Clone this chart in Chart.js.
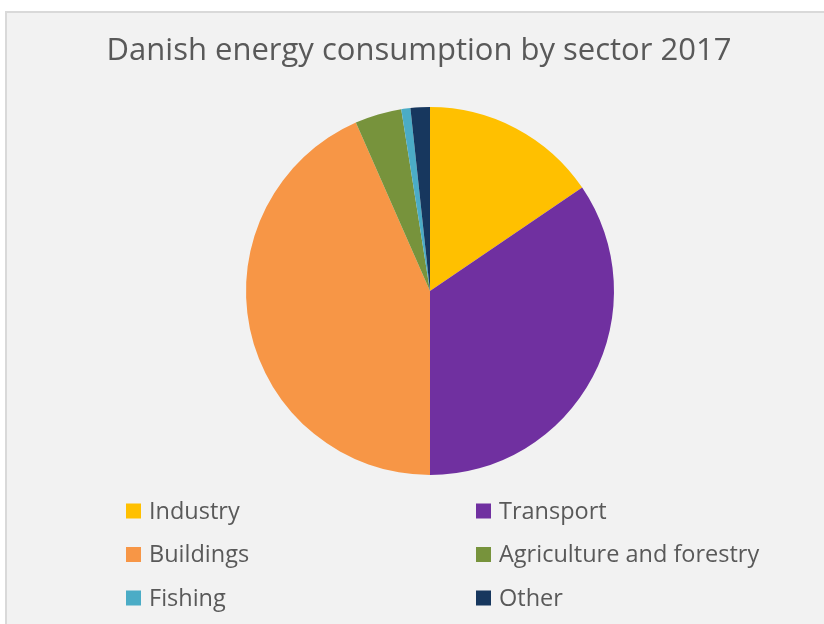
<!DOCTYPE html>
<html>
<head>
<meta charset="utf-8">
<script src="https://cdn.jsdelivr.net/npm/chart.js@4.4.1/dist/chart.umd.min.js"></script>
<style>
  html, body { margin: 0; padding: 0; background: #ffffff; }
  #frame {
    position: absolute; left: 5px; top: 11px; width: 819px; height: 613px;
    background: #f2f2f2; border-top: 2px solid #d9d9d9; border-left: 2px solid #d9d9d9;
    box-sizing: border-box;
  }
  #chart { display: block; }
</style>
</head>
<body>
<div id="frame"><canvas id="chart" width="817" height="611"></canvas></div>
<script>
/* ================================
   DATA
================================ */
const TITLE = "Danish energy consumption by sector 2017";
const sectors = ["Industry", "Transport", "Buildings", "Agriculture and forestry", "Fishing", "Other"];
const shares = [15.5, 34.5, 43.4, 4.1, 0.8, 1.7];
const colors = ["#FFC000", "#7030A0", "#F79646", "#77933C", "#4BACC6", "#17375E"];

const FONT = "'Open Sans', 'Noto Sans', sans-serif";
const TEXT = "#595959";

/* title (centred on the frame, not on the pie) + two-column legend */
const frameText = {
  id: "frameText",
  afterDraw(chart) {
    const ctx = chart.ctx;
    ctx.save();
    ctx.fillStyle = TEXT;
    ctx.textBaseline = "alphabetic";
    ctx.textAlign = "center";
    ctx.font = "31px " + FONT;
    ctx.fillText(TITLE, 412, 47);

    const colX = [119, 469];
    const rowBase = [505.5, 549, 592.5];
    ctx.font = "23.5px " + FONT;
    ctx.textAlign = "left";
    sectors.forEach((name, i) => {
      const x = colX[i % 2];
      const y = rowBase[Math.floor(i / 2)];
      ctx.fillStyle = colors[i];
      ctx.fillRect(x, y - 15, 15, 15);
      ctx.fillStyle = TEXT;
      ctx.fillText(name, x + 23, y);
    });
    ctx.restore();
  }
};

new Chart(document.getElementById("chart"), {
  type: "pie",
  data: {
    labels: sectors,
    datasets: [{ data: shares, backgroundColor: colors, borderWidth: 0 }]
  },
  options: {
    responsive: false,
    animation: false,
    layout: { padding: { top: 94, bottom: 149, left: 29, right: 0 } },
    plugins: {
      legend: { display: false },
      tooltip: { enabled: false },
      title: { display: false }
    }
  },
  plugins: [frameText]
});
</script>
</body>
</html>
